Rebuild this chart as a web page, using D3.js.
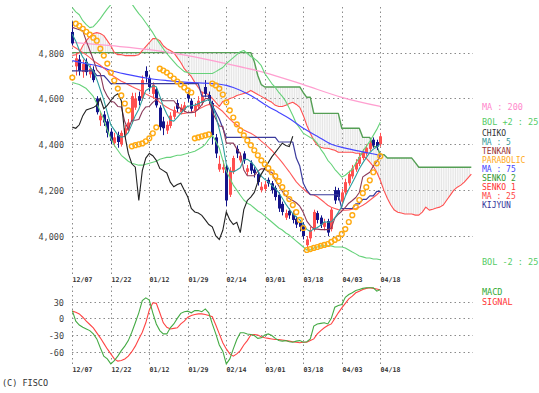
<!DOCTYPE html>
<html><head><meta charset="utf-8">
<script src="https://cdn.jsdelivr.net/npm/d3@7"></script>
<style>body{margin:0;background:#fff;} svg{display:block;} text{font-family:"DejaVu Sans Mono",monospace;}</style>
</head><body><svg id="c" width="539" height="393"></svg>
<script>
const dateLabels = ["12/07","12/22","01/12","01/29","02/14","03/01","03/18","04/03","04/18"];
const labelIdx = [0,11,22,33,44,55,66,77,88];
const priceTicks = [4000,4200,4400,4600,4800];
const macdTicks = [30,0,-30,-60];

const open = [4890,4740,4770,4715,4760,4705,4725,4600,4505,4530, 4500,4455,4405,4440,4400,4440,4460,4500,4560,4610, 4600,4720,4690,4620,4640,4560,4500,4460,4480,4520, 4580,4540,4550,4620,4590,4545,4565,4580,4650,4615, 4580,4430,4290,4290,4300,4180,4280,4380,4330,4360, 4280,4320,4290,4270,4200,4205,4245,4230,4210,4180, 4140,4080,4110,4100,4075,4060,4050,3960,3990,4030, 4100,4080,4040,4065,4030,4200,4200,4150,4190,4230, 4260,4290,4315,4340,4360,4380,4420,4410,4400];
const high = [4935,4800,4790,4770,4775,4745,4740,4610,4545,4545, 4510,4470,4450,4455,4460,4485,4510,4625,4625,4630, 4700,4740,4700,4670,4650,4570,4520,4500,4540,4565, 4595,4575,4585,4635,4600,4580,4610,4630,4680,4630, 4590,4445,4350,4330,4310,4300,4350,4395,4365,4370, 4310,4330,4300,4280,4235,4240,4255,4240,4220,4190, 4150,4115,4120,4110,4085,4070,4060,4000,4040,4115, 4110,4090,4075,4075,4125,4215,4210,4205,4250,4285, 4310,4335,4360,4380,4400,4420,4430,4420,4450];
const low = [4830,4700,4700,4690,4700,4690,4670,4530,4480,4480, 4430,4400,4390,4385,4390,4425,4450,4490,4550,4570, 4590,4670,4630,4600,4560,4460,4440,4445,4470,4510, 4540,4530,4540,4585,4540,4520,4555,4570,4605,4575, 4400,4340,4280,4275,4130,4170,4270,4340,4320,4315, 4265,4270,4255,4220,4190,4195,4215,4185,4155,4105, 4090,4070,4075,4055,4035,4020,3985,3940,3975,4020, 4055,4035,4025,4000,4020,4140,4155,4135,4180,4220, 4250,4280,4305,4330,4350,4370,4385,4375,4390];
const close = [4840,4775,4720,4750,4715,4730,4680,4540,4525,4495, 4450,4415,4430,4410,4450,4470,4495,4610,4600,4590, 4680,4695,4650,4660,4570,4475,4470,4485,4525,4550, 4555,4560,4570,4600,4555,4570,4590,4610,4620,4590, 4440,4360,4315,4300,4155,4285,4340,4360,4350,4330, 4295,4285,4275,4235,4215,4225,4230,4200,4170,4120, 4105,4100,4090,4070,4050,4040,4000,3985,4025,4105, 4070,4050,4060,4015,4115,4155,4170,4190,4235,4270, 4295,4320,4345,4365,4385,4405,4395,4390,4435];

const ma5 = [4880,4850,4810,4780,4760,4738,4719,4683,4638,4594, 4538,4485,4463,4440,4431,4435,4451,4487,4525,4553, 4595,4635,4643,4655,4651,4610,4565,4532,4505,4501, 4517,4535,4552,4567,4568,4571,4577,4585,4589,4596, 4570,4524,4465,4401,4314,4283,4279,4288,4298,4333, 4335,4324,4307,4284,4261,4247,4236,4221,4208,4189, 4165,4139,4117,4097,4083,4070,4050,4029,4020,4031, 4037,4047,4062,4060,4062,4079,4103,4129,4173,4204, 4232,4262,4293,4319,4342,4364,4379,4388,4402];
const ma25 = [4830,4820,4810,4800,4790,4778,4765,4755,4745,4732, 4720,4705,4695,4685,4675,4668,4660,4652,4645,4638, 4630,4620,4612,4605,4598,4583,4571,4562,4553,4546, 4539,4534,4535,4538,4541,4546,4553,4560,4568,4574, 4573,4567,4555,4543,4526,4510,4496,4484,4472,4462, 4455,4448,4439,4428,4414,4401,4388,4373,4356,4339, 4320,4300,4280,4258,4236,4220,4206,4192,4181,4179, 4171,4159,4147,4134,4125,4120,4115,4112,4112,4114, 4117,4120,4126,4134,4144,4156,4168,4180,4195];
const ma75Idx = [0,4,8,11,16,22,27,33,40,44,46,51,55,59,62,66,70,74,78,82,85,88];
const ma75 = [4765,4752,4739,4722,4704,4687,4678,4670,4665,4657,4648,4613,4574,4539,4513,4470,4435,4400,4383,4370,4361,4352];
const ma200Idx = [0,11,22,33,44,55,66,77,88];
const ma200 = [4845,4830,4813,4787,4752,4713,4660,4605,4565];
const bolUp = [4996,4978,4965,4939,4922,4909,4913,4930,4948,4970, 4991,5009,5035,5052,5057,5048,5035,5013,4991,4970, 4952,4930,4909,4887,4861,4839,4817,4796,4778,4761, 4743,4730,4717,4713,4709,4709,4709,4709,4709,4709, 4709,4717,4726,4735,4752,4765,4778,4791,4804,4809, 4796,4783,4774,4761,4743,4709,4687,4665,4648,4626, 4609,4587,4557,4526,4491,4470,4448,4439,4430,4422, 4404,4378,4357,4330,4313,4291,4274,4257,4265,4278, 4291,4317,4343,4370,4391,4413,4439,4465,4496];
const bolDn = [4670,4665,4661,4652,4643,4626,4609,4578,4543,4509, 4461,4426,4396,4374,4352,4339,4326,4317,4313,4309, 4309,4313,4317,4322,4326,4335,4339,4343,4343,4348, 4352,4352,4357,4361,4365,4370,4378,4387,4400,4422, 4439,4413,4383,4330,4283,4252,4222,4200,4178,4157, 4143,4135,4122,4109,4100,4087,4074,4061,4048,4035, 4026,4013,4004,3991,3978,3965,3952,3939,3939,3948, 3952,3957,3957,3957,3957,3952,3952,3952,3948,3939, 3930,3922,3913,3909,3904,3904,3900,3900,3896];
const tenkan = [4910,4905,4900,4895,4850,4810,4770,4725,4708,4640, 4610,4588,4583,4565,4563,4498,4465,4505,4505,4508, 4543,4563,4565,4583,4595,4600,4590,4590,4590,4590, 4570,4555,4545,4538,4538,4540,4553,4573,4600,4600, 4540,4510,4480,4478,4405,4405,4405,4380,4360,4288, 4263,4263,4263,4283,4293,4293,4280,4278,4243,4218, 4195,4175,4163,4155,4145,4130,4103,4065,4045,4030, 4030,4028,4028,4028,4033,4078,4095,4108,4125,4143, 4155,4168,4190,4258,4268,4278,4305,4325,4350];
const kijun = [4720,4720,4720,4720,4720,4720,4720,4700,4700,4700, 4683,4665,4665,4665,4665,4665,4665,4665,4665,4665, 4665,4665,4665,4665,4665,4665,4665,4665,4665,4665, 4665,4665,4665,4665,4665,4665,4665,4610,4610,4610, 4570,4540,4510,4470,4430,4430,4430,4430,4430,4430, 4430,4430,4430,4430,4430,4430,4430,4430,4430,4410, 4410,4410,4410,4410,4340,4305,4230,4200,4180,4180, 4180,4180,4180,4180,4180,4180,4180,4120,4120,4120, 4120,4140,4140,4160,4160,4175,4175,4195,4195];
const senko1 = [4787,4791,4800,4830,4852,4870,4883,4887,4883,4874, 4852,4830,4800,4791,4791,4787,4787,4787,4787,4791, 4809,4826,4843,4861,4861,4852,4830,4817,4809,4800, 4778,4757,4730,4713,4696,4670,4648,4626,4622,4617, 4600,4583,4565,4587,4591,4600,4604,4613,4617,4622, 4626,4635,4626,4617,4609,4600,4591,4583,4570,4565, 4565,4570,4578,4583,4574,4561,4526,4483,4448,4417, 4396,4387,4383,4383,4378,4374,4365,4365,4365,4365, 4365,4361,4361,4352,4339,4322,4304,4278,4243,4200, 4165,4135,4113,4104,4100,4096,4096,4096,4091,4091, 4104,4126,4113,4117,4122,4126,4135,4157,4178,4200, 4213,4222,4235,4252,4270];
const senko2 = [4800,4800,4800,4800,4800,4800,4800,4800,4800,4800, 4800,4800,4800,4800,4800,4800,4800,4800,4800,4800, 4800,4800,4800,4800,4800,4800,4800,4800,4800,4800, 4800,4800,4800,4800,4800,4800,4800,4800,4800,4800, 4800,4800,4800,4800,4800,4800,4800,4800,4800,4800, 4800,4800,4760,4700,4660,4650,4650,4650,4650,4650, 4650,4650,4650,4650,4650,4650,4625,4605,4605,4535, 4535,4535,4535,4535,4535,4535,4535,4470,4470,4470, 4470,4470,4470,4430,4430,4430,4390,4390,4355,4355, 4340,4340,4340,4340,4340,4340,4340,4340,4320,4300, 4300,4300,4300,4300,4300,4300,4300,4300,4300,4300, 4300,4300,4300,4300,4300];
const parabolic = [4691,4926,4917,4904,4891,4878,4865,4852,4817,4787, 4752,4713,4678,4643,4613,4578,4548,4391,4396,4400, 4404,4413,4426,4448,4474,4730,4722,4713,4700,4687, 4674,4661,4648,4635,4626,4426,4430,4435,4439,4443, 4665,4657,4643,4617,4583,4548,4517,4487,4461,4439, 4417,4396,4374,4352,4330,4313,4296,4278,4261,4239, 4213,4187,4161,4135,4104,4070,4035,3939,3943,3948, 3952,3957,3961,3965,3974,3983,3991,4009,4030,4061, 4091,4126,4157,4187,4213,4243,4278,4317,4348];
const macd = [14,-5,-12,-16,-19,-22,-28,-37,-53,-68, -73,-82,-76,-68,-58,-50,-40,-25,-8,10, 32,37,33,10,-10,-22,-28,-28,-17,-10, 0,9,12,13,10,14,14,12,17,10, -10,-28,-48,-59,-82,-73,-55,-38,-26,-26, -28,-29,-31,-36,-35,-30,-28,-31,-36,-40, -41,-40,-42,-43,-41,-40,-43,-42,-37,-14, -10,-9,-8,-10,0,20,23,25,38,43, 46,50,52,54,55,55,55,49,52];
const signal = [13,11,8,2,-5,-11,-17,-26,-35,-45, -55,-64,-73,-77,-76,-73,-68,-60,-50,-37, -25,-8,15,28,27,10,-8,-16,-19,-18, -17,-10,-5,2,5,7,8,8,7,5, 3,-12,-28,-44,-55,-64,-68,-64,-58,-48, -40,-30,-29,-30,-33,-35,-36,-37,-38,-38, -39,-40,-41,-42,-43,-44,-43,-43,-40,-37, -28,-22,-17,-13,-10,0,10,19,27,35, 40,46,49,52,54,55,54,53,51];
const chikoShift = 25;

const svg = d3.select("#c");
const x = d3.scaleLinear().domain([0, 88]).range([72.3, 380.3]);
const y = d3.scaleLinear().domain([4000, 4800]).range([236, 52.6]);
const ym = d3.scaleLinear().domain([-60, 30]).range([351.7, 301.7]);
const gridRight = 473;
const gridColor = "#8a8a8a";

svg.append("defs").append("clipPath").attr("id", "mainClip")
  .append("rect").attr("x", 60).attr("y", 5).attr("width", 420).attr("height", 270);

const grid = svg.append("g");
priceTicks.forEach(t => {
  const yy = Math.round(y(t)) + 0.5;
  grid.append("line").attr("x1", 72).attr("x2", gridRight).attr("y1", yy).attr("y2", yy)
    .attr("stroke", gridColor).attr("stroke-dasharray", "1.5,3");
  svg.append("text").attr("x", 64).attr("y", yy).attr("text-anchor", "end")
    .attr("dominant-baseline", "central").attr("font-size", 8.5).attr("fill", "#444")
    .text(d3.format(",")(t));
});
macdTicks.forEach(t => {
  const yy = Math.round(ym(t)) + 0.5;
  grid.append("line").attr("x1", 72).attr("x2", gridRight).attr("y1", yy).attr("y2", yy)
    .attr("stroke", gridColor).attr("stroke-dasharray", "1.5,3");
  svg.append("text").attr("x", 64).attr("y", yy).attr("text-anchor", "end")
    .attr("dominant-baseline", "central").attr("font-size", 8.5).attr("fill", "#444")
    .text(t);
});
labelIdx.forEach((idx, k) => {
  const xx = Math.round(x(idx)) + 0.5;
  grid.append("line").attr("x1", xx).attr("x2", xx).attr("y1", 7).attr("y2", 274)
    .attr("stroke", gridColor).attr("stroke-dasharray", "1.5,3");
  grid.append("line").attr("x1", xx).attr("x2", xx).attr("y1", 286).attr("y2", 366)
    .attr("stroke", gridColor).attr("stroke-dasharray", "1.5,3");
  [280, 370].forEach(ty => {
    svg.append("text").attr("x", xx).attr("y", ty).attr("dominant-baseline", "central")
      .attr("font-size", 6.6).attr("font-weight", "bold").attr("fill", "#333")
      .text(dateLabels[k]);
  });
});

const main = svg.append("g").attr("clip-path", "url(#mainClip)");

// cloud hatch
const hatch = main.append("g").attr("stroke", "#d2d2d2").attr("stroke-width", 0.6);
for (let j = 0; j < senko1.length - 1; j++) {
  for (let k = 0; k < 2; k++) {
    const t = k / 2;
    const a = senko1[j] + (senko1[j + 1] - senko1[j]) * t;
    const b = senko2[j] + (senko2[j + 1] - senko2[j]) * t;
    const xx = x(j + t);
    hatch.append("line").attr("x1", xx).attr("x2", xx).attr("y1", y(a)).attr("y2", y(b));
  }
}

const lineIdx = (arr, idxArr, curve) => d3.line()
  .x((d, i) => x(idxArr ? idxArr[i] : i)).y(d => y(d)).curve(curve || d3.curveLinear)(arr);

function drawLine(g, arr, color, w, idxArr, curve) {
  g.append("path").attr("d", lineIdx(arr, idxArr, curve)).attr("fill", "none")
    .attr("stroke", color).attr("stroke-width", w).attr("stroke-linejoin", "round");
}

drawLine(main, senko2, "#559f55", 1.4);
drawLine(main, senko1, "#ff5050", 1.1);
drawLine(main, ma200, "#ff9fd0", 1.3, ma200Idx, d3.curveMonotoneX);

// candles
const cg = main.append("g");
close.forEach((c, i) => {
  const up = c >= open[i];
  const col = up ? "#ff5050" : "#14148a";
  const xx = Math.round(x(i));
  cg.append("line").attr("x1", xx + 0.5).attr("x2", xx + 0.5)
    .attr("y1", y(high[i])).attr("y2", y(low[i])).attr("stroke", col).attr("stroke-width", 1);
  const top = y(Math.max(c, open[i])), bot = y(Math.min(c, open[i]));
  cg.append("rect").attr("x", xx - 1).attr("width", 3).attr("y", top)
    .attr("height", Math.max(1, bot - top)).attr("fill", col);
});

drawLine(main, bolUp, "#66d27a", 1.1);
drawLine(main, bolDn, "#66d27a", 1.1);
drawLine(main, ma75, "#4545ff", 1.2, ma75Idx, d3.curveMonotoneX);
drawLine(main, ma25, "#ff5a5a", 1.1);
drawLine(main, kijun, "#3a3a9c", 1.2);
drawLine(main, tenkan, "#8a3a5a", 1.1);
drawLine(main, ma5, "#2f9e9e", 1.1);

// chiko (close shifted back)
const chikoVals = close.slice(chikoShift);
main.append("path").attr("d", d3.line().x((d, i) => x(i)).y(d => y(d))(chikoVals))
  .attr("fill", "none").attr("stroke", "#222").attr("stroke-width", 1.1);

// parabolic
main.append("g").selectAll("circle").data(parabolic).join("circle")
  .attr("cx", (d, i) => x(i)).attr("cy", d => y(d)).attr("r", 2.4)
  .attr("fill", "none").attr("stroke", "#ffaa11").attr("stroke-width", 1.4);

// MACD panel
const mline = d3.line().x((d, i) => x(i)).y(d => ym(d));
svg.append("path").attr("d", mline(signal)).attr("fill", "none").attr("stroke", "#ff4444").attr("stroke-width", 1.1);
svg.append("path").attr("d", mline(macd)).attr("fill", "none").attr("stroke", "#44aa44").attr("stroke-width", 1.1);

// legend: crowded block spread slightly so labels don't collide
const legend = [
  ["MA : 200", "#ff88cc", 107, 8.5],
  ["BOL +2 : 25", "#55cc66", 122, 8.5],
  ["CHIKO", "#333333", 133, 8],
  ["MA : 5", "#339999", 142, 8],
  ["TENKAN", "#993333", 151, 8],
  ["PARABOLIC", "#ffaa22", 160, 8],
  ["MA : 75", "#4444ff", 169, 8],
  ["SENKO 2", "#339933", 178, 8],
  ["SENKO 1", "#ff3333", 187, 8],
  ["MA : 25", "#ff4444", 196, 8],
  ["KIJYUN", "#333399", 205, 8],
  ["BOL -2 : 25", "#55cc66", 262, 8.5],
  ["MACD", "#33aa33", 292, 8.5],
  ["SIGNAL", "#ff3333", 302, 8.5]
];
legend.forEach(([t, c, yy, fs]) => {
  svg.append("text").attr("x", 482).attr("y", yy).attr("dominant-baseline", "central")
    .attr("font-size", fs).attr("fill", c).text(t);
});
svg.append("text").attr("x", 2).attr("y", 383).attr("dominant-baseline", "central")
  .attr("font-size", 8.5).attr("fill", "#333").text("(C) FISCO");
</script>
</body></html>
